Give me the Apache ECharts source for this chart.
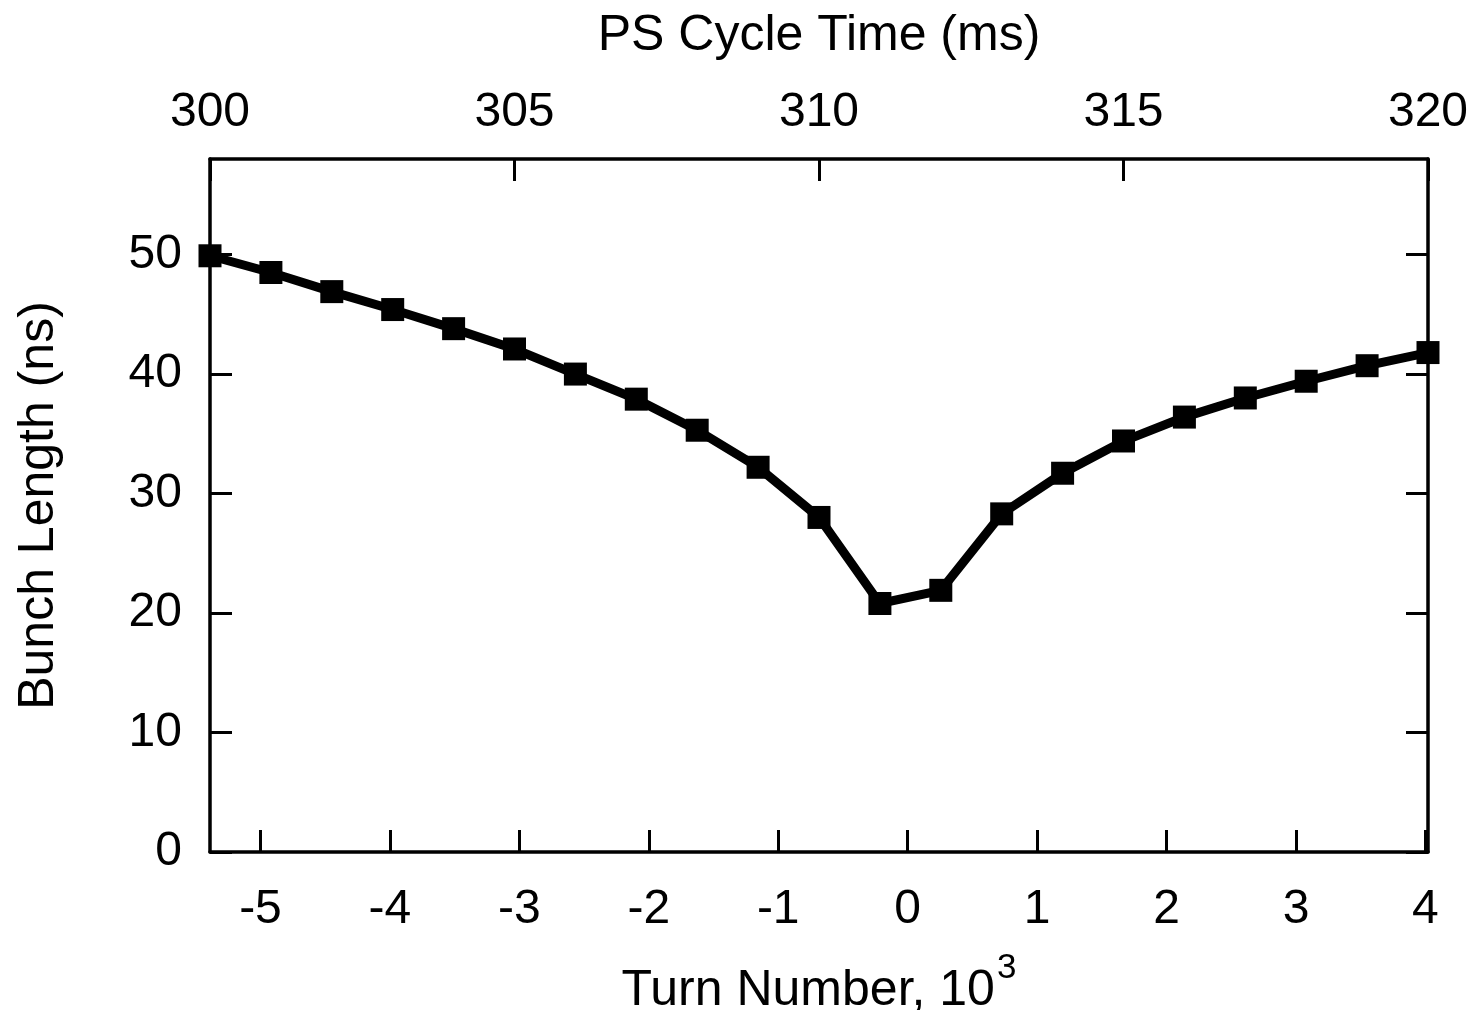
<!DOCTYPE html>
<html>
<head>
<meta charset="utf-8">
<title>Bunch Length vs PS Cycle Time</title>
<script src="https://cdn.jsdelivr.net/npm/echarts@6/dist/echarts.min.js"></script>
<style>
  html, body { margin: 0; padding: 0; background: #ffffff; }
  #chart { width: 1473px; height: 1010px; }
</style>
</head>
<body>
<div id="chart"></div>
<script>
// Measured bunch length along the PS cycle
const cycleTimeMs = [300, 301, 302, 303, 304, 305, 306, 307, 308, 309, 310,
                     311, 312, 313, 314, 315, 316, 317, 318, 319, 320];
const bunchLengthNs = [49.9, 48.5, 46.9, 45.4, 43.8, 42.1, 40.0, 37.9, 35.3, 32.2, 28.0,
                       20.8, 21.9, 28.3, 31.7, 34.4, 36.4, 38.0, 39.4, 40.7, 41.8];

// Axis ranges and tick labels
const timeRange = [300, 320];
const turnRange = [-5.39, 4.02];          // turn number (10^3) spanning the same time window
const turnTicks = [-5, -4, -3, -2, -1, 0, 1, 2, 3, 4];
const lengthRange = [0, 58];
const lengthTicks = [0, 10, 20, 30, 40, 50];

const FONT = 'Liberation Sans, Helvetica, Arial, sans-serif';
const INK = '#000000';
const FRAME = { show: true, onZero: false, lineStyle: { color: INK, width: 3.5 } };
const TICK = (vals) => ({ show: true, inside: true, length: 22, customValues: vals,
                          lineStyle: { color: INK, width: 3 } });

const chart = echarts.init(document.getElementById('chart'), null, { renderer: 'canvas' });

chart.setOption({
  backgroundColor: '#ffffff',
  animation: false,
  textStyle: { fontFamily: FONT, color: INK },
  grid: { left: 210, right: 45, top: 159, bottom: 158, containLabel: false, outerBoundsMode: 'none' },
  xAxis: [
    {
      // bottom: turn number
      type: 'value',
      position: 'bottom',
      min: turnRange[0],
      max: turnRange[1],
      axisLine: FRAME,
      axisTick: TICK(turnTicks),
      splitLine: { show: false },
      axisLabel: { customValues: turnTicks, fontSize: 48, color: INK, fontFamily: FONT, margin: 34,
                   formatter: (v) => String(Math.round(v)) },
      name: '{n|Turn Number, 10}{s|3}',
      nameLocation: 'middle',
      nameGap: 106,
      nameTextStyle: {
        rich: {
          n: { fontSize: 50, fontFamily: FONT, color: INK, lineHeight: 58, verticalAlign: 'bottom' },
          s: { fontSize: 35, fontFamily: FONT, color: INK, lineHeight: 40, verticalAlign: 'bottom',
               padding: [0, 0, 30, 2] }
        }
      }
    },
    {
      // top: PS cycle time
      type: 'value',
      position: 'top',
      min: timeRange[0],
      max: timeRange[1],
      interval: 5,
      axisLine: FRAME,
      axisTick: { show: true, inside: true, length: 22, lineStyle: { color: INK, width: 3 } },
      splitLine: { show: false },
      axisLabel: { fontSize: 48, color: INK, fontFamily: FONT, margin: 22 },
      name: 'PS Cycle Time (ms)',
      nameLocation: 'middle',
      nameGap: 98,
      nameTextStyle: { fontSize: 50, color: INK, fontFamily: FONT }
    }
  ],
  yAxis: [
    {
      type: 'value',
      position: 'left',
      min: lengthRange[0],
      max: lengthRange[1],
      axisLine: FRAME,
      axisTick: TICK(lengthTicks),
      splitLine: { show: false },
      axisLabel: { customValues: lengthTicks, fontSize: 48, color: INK, fontFamily: FONT, margin: 28 },
      name: 'Bunch Length (ns)',
      nameLocation: 'middle',
      nameGap: 146,
      nameRotate: 90,
      nameTextStyle: { fontSize: 50, color: INK, fontFamily: FONT }
    },
    {
      // mirrored ticks on the right edge
      type: 'value',
      position: 'right',
      min: lengthRange[0],
      max: lengthRange[1],
      axisLine: FRAME,
      axisTick: TICK(lengthTicks),
      splitLine: { show: false },
      axisLabel: { show: false }
    }
  ],
  series: [
    {
      type: 'line',
      xAxisIndex: 1,
      yAxisIndex: 0,
      data: cycleTimeMs.map((t, i) => [t, bunchLengthNs[i]]),
      symbol: 'rect',
      symbolSize: 23,
      clip: false,
      lineStyle: { color: INK, width: 9, join: 'miter' },
      itemStyle: { color: INK },
      emphasis: { disabled: true }
    }
  ]
});
</script>
</body>
</html>
